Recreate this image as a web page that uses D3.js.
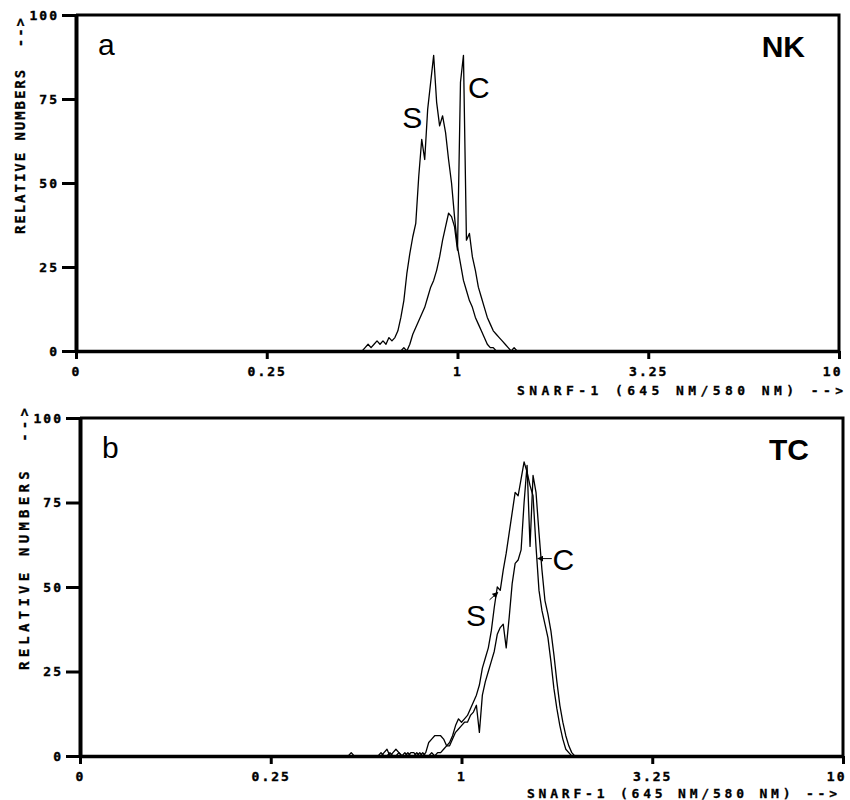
<!DOCTYPE html>
<html>
<head>
<meta charset="utf-8">
<script src="https://cdn.jsdelivr.net/npm/d3@7"></script>
<style>
  body { margin: 0; background: #fff; }
  svg { display: block; }
</style>
</head>
<body>
<svg id="grafico" width="850" height="800"></svg>
<script>
/* Eje x: 256 canales, escala log del cociente SNARF-1 */
const xTickChannels = [0, 64, 128, 192, 256]
const xTickLabels = ["0", "0.25", "1", "3.25", "10"]
const yTicks = [0, 25, 50, 75, 100]

/* Panel a (NK): cuentas relativas por canal */
const nkSStart = 95
const nkSCounts = [0, 0, 1, 2, 1, 2, 3, 2, 3, 2, 4, 3, 4,
  6, 10, 15, 23, 29, 34, 38, 52, 63, 57, 72, 80, 88, 74, 67, 70, 65, 57, 50, 40,
  31, 26, 21, 18, 15, 13, 10, 8, 6, 4, 2, 1, 1, 0]
const nkCStart = 109
const nkCCounts = [0, 1, 0, 2, 5, 7, 9, 11, 13, 16, 19, 21, 24, 28, 33, 37, 41, 40,
  37, 30, 80, 88, 33, 35, 28, 24, 19, 16, 13, 10, 8, 6, 5, 4, 3, 2, 1, 0, 1, 0]

/* Panel b (TC) */
const tcSStart = 88
const tcSCounts = [0, 0, 0, 1, 0, 0, 0, 0, 0, 0, 0, 0, 0, 0, 1, 2, 0, 1, 2, 1, 0, 1,
  0, 1, 1, 0, 1, 0, 1, 4, 5, 6, 6, 6, 5, 3, 4, 6, 9, 11, 10, 11, 12, 14, 16, 18,
  21, 26, 29, 32, 37, 44, 50, 49, 55, 60, 66, 72, 78, 77, 82, 87, 84, 80, 77, 62,
  49, 43, 39, 35, 28, 20, 14, 9, 5, 2, 1, 0]
const tcCStart = 100
const tcCCounts = [0, 1, 0, 0, 1, 0, 0, 1, 0, 0, 1, 0, 0, 1, 0, 1, 0, 0, 1, 0, 1, 1,
  2, 3, 3, 5, 7, 8, 9, 10, 10, 12, 13, 15, 7, 18, 22, 25, 28, 31, 36, 38, 39, 32,
  41, 51, 57, 58, 61, 75, 86, 62, 83, 78, 66, 55, 46, 42, 37, 30, 22, 15, 10, 6,
  3, 1, 0]

const svg = d3.select('#grafico')
const fuenteMono = '"DejaVu Sans Mono", monospace'
const fuenteTexto = '"Liberation Sans", Arial, sans-serif'

/* flecha pequeña para las anotaciones */
svg.append('defs').append('marker')
  .attr('id', 'punta')
  .attr('viewBox', '0 0 10 10')
  .attr('refX', 9).attr('refY', 5)
  .attr('markerWidth', 6).attr('markerHeight', 6)
  .attr('markerUnits', 'userSpaceOnUse')
  .attr('orient', 'auto')
  .append('path').attr('d', 'M0,0L10,5L0,10Z').attr('fill', '#000')

const paneles = [
  {
    left: 76, right: 839, top: 15, bottom: 351,
    letra: 'a', tipo: 'NK',
    series: [[nkSStart, nkSCounts], [nkCStart, nkCCounts]],
    etiquetas: [['S', 112.8, 66.4], ['C', 135.2, 75.3]],
    flechas: [],
    tituloY: { x: 20, y: 234, largo: 216 },
    tituloX: { x: 517, y: 395, largo: 326 }
  },
  {
    left: 80, right: 843, top: 418, bottom: 756,
    letra: 'b', tipo: 'TC',
    series: [[tcSStart, tcSCounts], [tcCStart, tcCCounts]],
    etiquetas: [['S', 132.9, 38.6], ['C', 162.2, 54.9]],
    flechas: [[137.4, 46.2, 140.2, 48.4], [158.3, 58.4, 153.6, 58.4]],
    tituloY: { x: 24, y: 670, largo: 262 },
    tituloX: { x: 527, y: 798, largo: 310 }
  }
]

paneles.forEach(dibujarPanel)

function dibujarPanel(p) {
  const x = d3.scaleLinear().domain([0, 256]).range([p.left, p.right])
  const y = d3.scaleLinear().domain([0, 100]).range([p.bottom, p.top])
  const g = svg.append('g')

  /* marco superior y derecho */
  g.append('path')
    .attr('d', `M${p.left},${p.top}H${p.right}V${p.bottom}`)
    .attr('fill', 'none')
    .attr('stroke', '#000')
    .attr('stroke-width', 3)

  /* EJES */
  const ejeX = g.append('g')
    .attr('transform', `translate(0,${p.bottom})`)
    .call(d3.axisBottom(x)
      .tickValues(xTickChannels)
      .tickFormat((d, i) => xTickLabels[i])
      .tickSize(8).tickSizeOuter(0).tickPadding(8))
  ejeX.select('.domain').attr('stroke-width', 3.5)
  // el "10" se alinea a la derecha para no salirse
  ejeX.selectAll('.tick text')
    .filter((d, i, n) => i === n.length - 1)
    .attr('text-anchor', 'end')
    .attr('x', 3)

  const ejeY = g.append('g')
    .attr('transform', `translate(${p.left},0)`)
    .call(d3.axisLeft(y)
      .tickValues(yTicks)
      .tickSize(14).tickSizeOuter(0).tickPadding(3))
  ejeY.select('.domain').attr('stroke-width', 4)

  for (const eje of [ejeX, ejeY]) {
    eje.attr('font-family', fuenteMono)
      .attr('font-size', 13)
      .attr('font-weight', 'bold')
    eje.selectAll('.tick line').attr('stroke-width', 3)
    eje.selectAll('.tick text')
      .attr('stroke', '#000')
      .attr('stroke-width', 0.4)
      .style('letter-spacing', '2px')
  }

  /* histogramas */
  const linea = d3.line()
    .x(d => x(d[0]))
    .y(d => y(d[1]))

  p.series.forEach(([inicio, cuentas]) => {
    const puntos = cuentas.map((v, i) => [inicio + i, v])
    g.append('path')
      .datum(puntos)
      .attr('d', linea)
      .attr('fill', 'none')
      .attr('stroke', '#000')
      .attr('stroke-width', 1.3)
      .attr('stroke-linejoin', 'round')
  })

  /* anotaciones S y C */
  p.etiquetas.forEach(([texto, cx, cy]) => {
    g.append('text')
      .attr('x', x(cx)).attr('y', y(cy))
      .attr('text-anchor', 'middle')
      .attr('font-family', fuenteTexto)
      .attr('font-size', 30)
      .text(texto)
  })
  p.flechas.forEach(([x1, y1, x2, y2]) => {
    g.append('line')
      .attr('x1', x(x1)).attr('y1', y(y1))
      .attr('x2', x(x2)).attr('y2', y(y2))
      .attr('stroke', '#000')
      .attr('stroke-width', 1)
      .attr('marker-end', 'url(#punta)')
  })

  /* letra del panel y tipo celular */
  g.append('text')
    .attr('x', p.left + 22).attr('y', p.top + 40)
    .attr('font-family', fuenteTexto)
    .attr('font-size', 30)
    .text(p.letra)
  g.append('text')
    .attr('x', p.right - 34).attr('y', p.top + 42)
    .attr('text-anchor', 'end')
    .attr('font-family', fuenteTexto)
    .attr('font-size', 30)
    .attr('font-weight', 'bold')
    .text(p.tipo)

  /* titulos de los ejes */
  g.append('text')
    .attr('transform', `translate(${p.tituloY.x},${p.tituloY.y}) rotate(-90)`)
    .attr('dominant-baseline', 'central')
    .attr('font-family', fuenteMono)
    .attr('font-size', 14)
    .attr('font-weight', 'bold')
    .attr('stroke', '#000')
    .attr('stroke-width', 0.3)
    .attr('textLength', p.tituloY.largo)
    .attr('lengthAdjust', 'spacing')
    .style('white-space', 'pre')
    .text('RELATIVE NUMBERS  -->')

  g.append('text')
    .attr('x', p.tituloX.x).attr('y', p.tituloX.y)
    .attr('font-family', fuenteMono)
    .attr('font-size', 13)
    .attr('font-weight', 'bold')
    .attr('stroke', '#000')
    .attr('stroke-width', 0.3)
    .attr('textLength', p.tituloX.largo)
    .attr('lengthAdjust', 'spacing')
    .text('SNARF-1 (645 NM/580 NM) -->')
}
</script>
</body>
</html>
